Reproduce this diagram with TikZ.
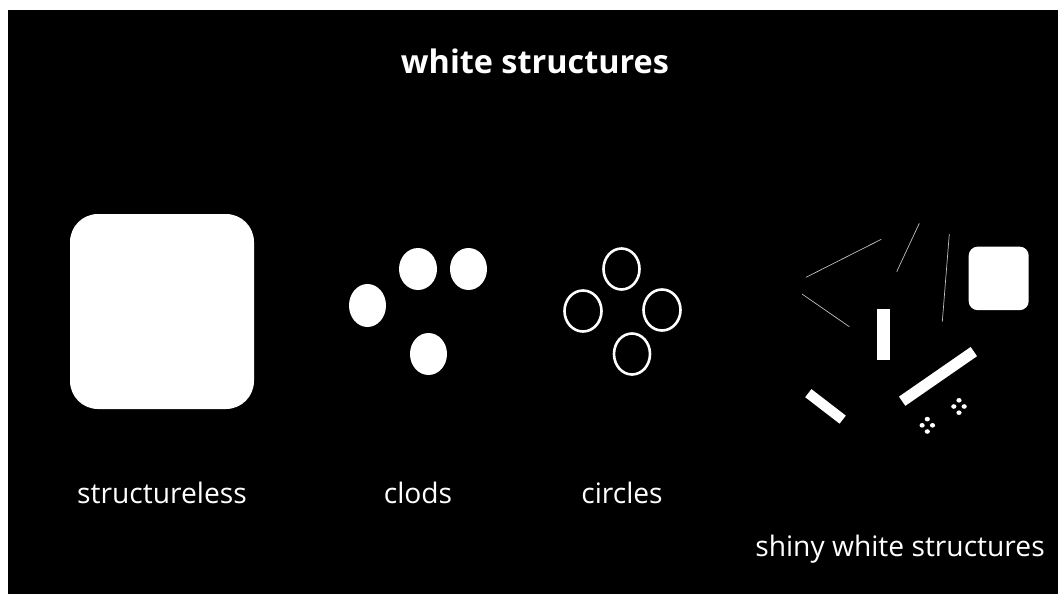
\documentclass[tikz,border=0pt]{standalone}
\usepackage{fontspec}
\setmainfont{Open Sans}
\begin{document}
\begin{tikzpicture}[x=1pt,y=-1pt,
  lbl/.style={text=white, anchor=base, font=\fontsize{28.2}{32}\selectfont, inner sep=0},
  ttl/.style={text=white, anchor=base, font=\fontsize{32.4}{36}\selectfont\bfseries, inner sep=0},
  blob/.style={fill=white},
  ring/.style={draw=white, line width=2.6pt},
  hair/.style={draw=white!75!black, line width=0.7pt},
  bar/.style={fill=white}]
\useasboundingbox (0,0) rectangle (1058,594);
\fill[white] (0,0) rectangle (1058,594);
\fill[black] (8,10) rectangle (1058,594);

% title
\node[ttl] (title) at (535,74) {white structures};

% structureless
\node[fill=white, rounded corners=28pt, minimum width=184pt, minimum height=195pt, inner sep=0] (sq) at (162,311.5) {};
\node[lbl] (l1) at (162,503) {structureless};

% clods
\fill[blob] (367.5,305.5) ellipse (18.5 and 21.5);
\fill[blob] (418,269) ellipse (19 and 21);
\fill[blob] (468.5,269) ellipse (18.5 and 21);
\fill[blob] (428.5,354) ellipse (18.5 and 21);
\node[lbl] (l2) at (418,503) {clods};

% circles
\draw[ring] (621.5,269) ellipse (18 and 20.5);
\draw[ring] (583,311) ellipse (18.5 and 20.5);
\draw[ring] (662,310) ellipse (18.5 and 20.5);
\draw[ring] (632,354) ellipse (18 and 20.5);
\node[lbl] (l3) at (622,503) {circles};

% shiny white structures
\draw[hair] (806,277.3) -- (881.3,239.3);
\draw[hair] (802,294) -- (849.3,326.7);
\draw[hair] (896.7,271.7) -- (919.3,223.3);
\draw[hair] (942.3,321.7) -- (949.3,234);
\node[fill=white, rounded corners=9pt, minimum width=60pt, minimum height=63.5pt, inner sep=0] (sq2) at (998.7,278.4) {};
\fill[bar] (877.3,309.3) rectangle (889.7,360);
\fill[bar, shift={(938,376.4)}, rotate=34.7] (-43.6,-5.6) rectangle (43.6,5.6);
\fill[bar, shift={(825.5,406.4)}, rotate=-37.6] (-21.7,-5.1) rectangle (21.7,5.1);
\foreach \cx/\cy in {927.3/425.3, 959/406.5}{
  \fill[white] (\cx,\cy-6.2) ellipse (2.6 and 2.3);
  \fill[white] (\cx-5.2,\cy) ellipse (2.6 and 2.3);
  \fill[white] (\cx+5.2,\cy) ellipse (2.6 and 2.3);
  \fill[white] (\cx,\cy+6.2) ellipse (2.6 and 2.3);
}
\node[lbl] (l4) at (900,556) {shiny white structures};
\end{tikzpicture}
\end{document}
